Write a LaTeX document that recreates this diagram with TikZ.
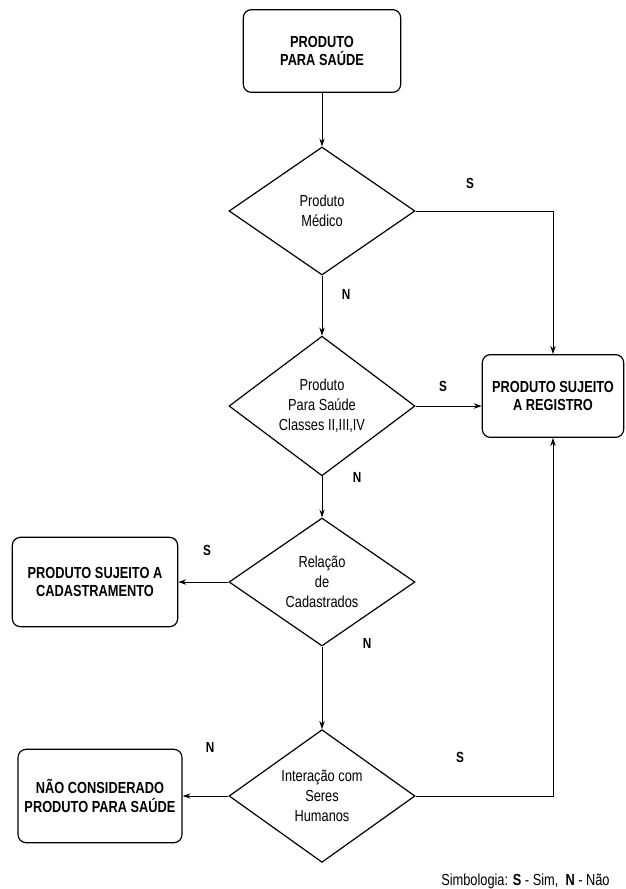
\documentclass[tikz,border=0pt]{standalone}
\usepackage{fontspec}
\setmainfont{Liberation Sans}[FakeStretch=0.8]
\usepackage{xcolor}
\usetikzlibrary{shapes.geometric,arrows.meta}

\begin{document}
\begin{tikzpicture}[x=0.75pt,y=0.75pt,yscale=-1,xscale=1,
  caixa/.style={draw,rounded corners=6pt,line width=0.9pt,align=center,inner sep=0pt,font=\fontsize{12}{14}\selectfont\bfseries},
  decisao/.style={draw,diamond,line width=0.9pt,align=center,inner sep=0pt,minimum width=139.5pt,minimum height=96pt,font=\fontsize{12}{15}\selectfont},
  rotulo/.style={inner sep=0.75pt,font=\fontsize{11}{13}\selectfont\bfseries},
  seta/.style={-{Stealth[length=6pt,width=4pt]},line width=0.7pt}]

\useasboundingbox (0,0) rectangle (625,889);

% caixas
\node[caixa,minimum width=118pt,minimum height=62pt] (inicio) at (322,51) {PRODUTO\\PARA SAÚDE};

\node[caixa,minimum width=106pt,minimum height=62pt] (registro) at (553,396) {PRODUTO SUJEITO\\A REGISTRO};

\node[caixa,minimum width=124pt,minimum height=67pt] (cadastro) at (95,582) {PRODUTO SUJEITO A\\CADASTRAMENTO};

\node[caixa,minimum width=123pt,minimum height=70pt] (naocons) at (100,796) {NÃO CONSIDERADO\\PRODUTO PARA SAÚDE};

% decisoes
\node[decisao] (medico) at (322,211) {Produto\\Médico};

\node[decisao] (classes) at (322,406) {Produto\\Para Saúde\\Classes II,III,IV};

\node[decisao] (relacao) at (322,582) {Relação\\de\\Cadastrados};

\node[decisao] (interacao) at (322,796) {Interação com\\Seres\\Humanos};

% ligacoes
\draw[seta] (inicio.south) -- (medico.north);

\draw[seta] (medico.south) -- (classes.north);

\draw[seta] (classes.south) -- (relacao.north);

\draw[seta] (relacao.south) -- (interacao.north);

\draw[seta] (medico.east) -| (registro.north);

\draw[seta] (classes.east) -- (classes.east -| registro.west);

\draw[seta] (interacao.east) -| (registro.south);

\draw[seta] (relacao.west) -- (cadastro.east);

\draw[seta] (interacao.west) -- (naocons.east);

% rotulos
\node[rotulo] (s1) at (470,183) {S};

\node[rotulo] (n1) at (346,294) {N};

\node[rotulo] (s2) at (443,386) {S};

\node[rotulo] (n2) at (357,477) {N};

\node[rotulo] (s3) at (207,550) {S};

\node[rotulo] (n3) at (367,643) {N};

\node[rotulo] (n4) at (210,747) {N};

\node[rotulo] (s4) at (460,757) {S};

\node[anchor=west,inner sep=0.75pt,font=\fontsize{12}{14}\selectfont] (legenda) at (440,881) {Simbologia: \textbf{S} - Sim,\ \ \textbf{N} - Não};

\end{tikzpicture}
\end{document}
